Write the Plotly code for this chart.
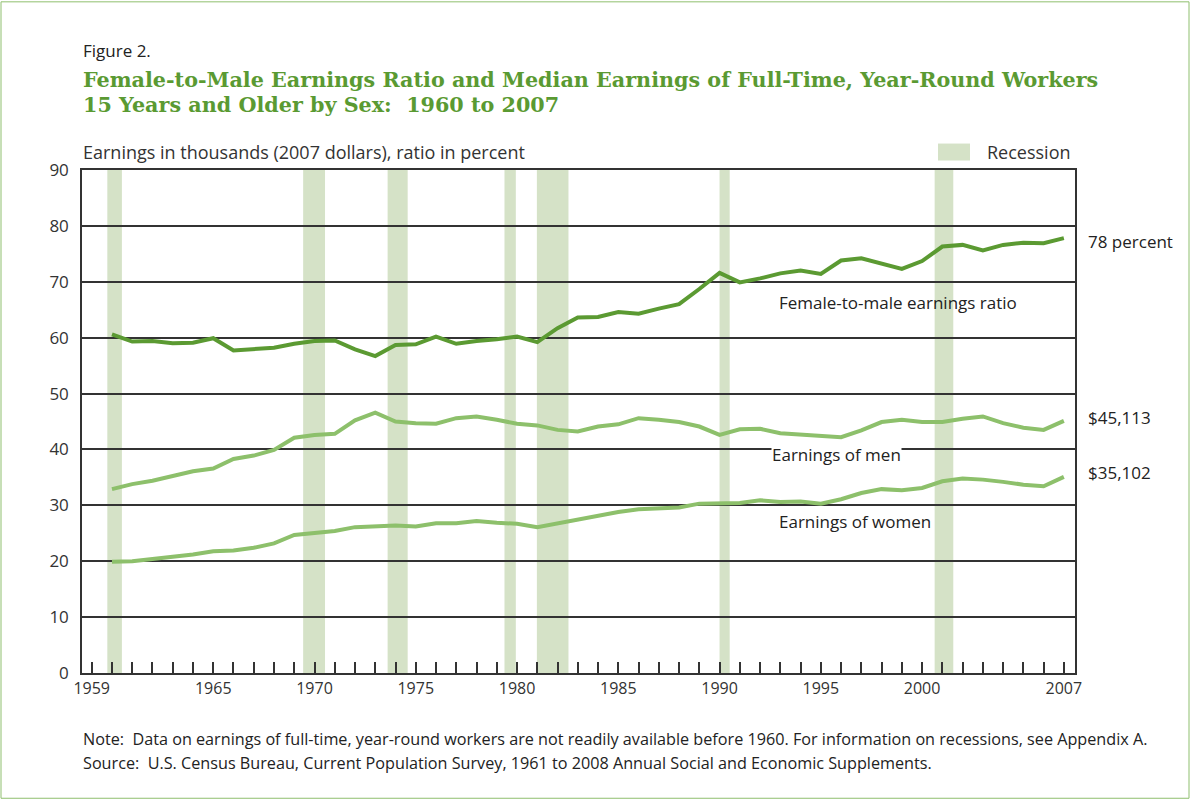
import plotly.graph_objects as go

years = list(range(1960, 2008))

ratio = [60.6, 59.3, 59.4, 59.0, 59.1, 59.9, 57.7, 57.9, 58.2, 58.9,
         59.4, 59.5, 57.9, 56.7, 58.7, 58.8, 60.2, 58.9, 59.4, 59.7,
         60.2, 59.2, 61.7, 63.6, 63.7, 64.6, 64.3, 65.2, 66.0, 68.7,
         71.6, 69.9, 70.6, 71.5, 72.0, 71.4, 73.8, 74.2, 73.2, 72.3,
         73.7, 76.3, 76.6, 75.6, 76.6, 77.0, 76.9, 77.8]

men = [32.9, 33.8, 34.4, 35.3, 36.1, 36.6, 38.3, 38.9, 39.9, 42.1,
       42.6, 42.8, 45.2, 46.6, 45.0, 44.7, 44.6, 45.6, 45.9, 45.3,
       44.6, 44.3, 43.5, 43.2, 44.1, 44.5, 45.6, 45.3, 44.9, 44.1,
       42.6, 43.6, 43.7, 42.9, 42.7, 42.5, 42.2, 43.4, 44.9, 45.3,
       44.9, 44.9, 45.5, 45.9, 44.7, 43.9, 43.5, 45.1]

women = [19.9, 20.0, 20.4, 20.8, 21.2, 21.8, 21.9, 22.4, 23.2, 24.7,
         25.1, 25.4, 26.1, 26.3, 26.4, 26.2, 26.8, 26.8, 27.2, 26.9,
         26.7, 26.1, 26.8, 27.5, 28.1, 28.8, 29.3, 29.5, 29.6, 30.3,
         30.4, 30.4, 30.9, 30.6, 30.7, 30.3, 31.1, 32.2, 32.9, 32.7,
         33.1, 34.3, 34.8, 34.6, 34.2, 33.7, 33.4, 35.1]

recession_start = [1959.77, 1969.44, 1973.61, 1979.38, 1980.98, 1990.0, 2000.62]
recession_end = [1960.49, 1970.52, 1974.60, 1979.94, 1982.54, 1990.5, 2001.54]

tick_years = list(range(1959, 2008))
labeled_years = [1959, 1965, 1970, 1975, 1980, 1985, 1990, 1995, 2000, 2007]
tick_text = [str(y) if y in labeled_years else "" for y in tick_years]

end_labels = ["78 percent", "$45,113", "$35,102"]

DARK = "#5b9a32"
LIGHT = "#8dc06b"
BAR = "#d5e2c7"
AX = "#333333"
FONT = "Open Sans"

W, H = 1190, 800
L, R, T, B = 82, 1075, 169.5, 673.5


def px(x):
    return (x - L) / (R - L)


def py(y):
    return (B - y) / (B - T)


fig = go.Figure()

fig.add_trace(go.Scatter(x=years, y=men, mode="lines",
                         line=dict(color=LIGHT, width=4), hoverinfo="skip"))
fig.add_trace(go.Scatter(x=years, y=women, mode="lines",
                         line=dict(color=LIGHT, width=4), hoverinfo="skip"))
fig.add_trace(go.Scatter(x=years, y=ratio, mode="lines",
                         line=dict(color=DARK, width=4), hoverinfo="skip"))

shapes = []
for s, e in zip(recession_start, recession_end):
    shapes.append(dict(type="rect", xref="x", yref="paper", x0=s, x1=e, y0=0, y1=1,
                       fillcolor=BAR, line=dict(width=0), layer="below"))
# legend swatch
shapes.append(dict(type="rect", xref="paper", yref="paper",
                   x0=px(938), x1=px(970), y0=py(160), y1=py(143),
                   fillcolor=BAR, line=dict(width=0)))
# outer frame
shapes.append(dict(type="rect", xref="paper", yref="paper",
                   x0=px(1), x1=px(W - 1), y0=py(H - 1), y1=py(1),
                   line=dict(color="#8fbf6e", width=1), fillcolor="rgba(0,0,0,0)"))

annotations = [
    dict(text="Figure 2.", x=px(81), y=py(50), xanchor="left", yanchor="middle",
         font=dict(family=FONT, size=17, color="#222222")),
    dict(text="<b>Female-to-Male Earnings Ratio and Median Earnings of Full-Time, Year-Round Workers</b>",
         x=px(81), y=py(79), xanchor="left", yanchor="middle",
         font=dict(family="DejaVu Serif", size=20.7, color="#5a9a32")),
    dict(text="<b>15 Years and Older by Sex:  1960 to 2007</b>",
         x=px(81), y=py(104), xanchor="left", yanchor="middle",
         font=dict(family="DejaVu Serif", size=20.7, color="#5a9a32")),
    dict(text="Earnings in thousands (2007 dollars), ratio in percent",
         x=px(81), y=py(151), xanchor="left", yanchor="middle",
         font=dict(family=FONT, size=18, color="#333333")),
    dict(text="Recession", x=px(985), y=py(151), xanchor="left", yanchor="middle",
         font=dict(family=FONT, size=18, color="#333333")),
    dict(text=end_labels[0], x=px(1086), y=py(241), xanchor="left", yanchor="middle",
         font=dict(family=FONT, size=17, color="#222222")),
    dict(text=end_labels[1], x=px(1086), y=py(417), xanchor="left", yanchor="middle",
         font=dict(family=FONT, size=17, color="#222222")),
    dict(text=end_labels[2], x=px(1086), y=py(473), xanchor="left", yanchor="middle",
         font=dict(family=FONT, size=17, color="#222222")),
    dict(text="Female-to-male earnings ratio", x=px(777), y=py(302), xanchor="left", yanchor="middle",
         font=dict(family=FONT, size=17, color="#222222")),
    dict(text="Earnings of men", x=px(771), y=py(455), xanchor="left", yanchor="middle",
         bgcolor="white", borderpad=0,
         font=dict(family=FONT, size=17, color="#222222")),
    dict(text="Earnings of women", x=px(777), y=py(522), xanchor="left", yanchor="middle",
         font=dict(family=FONT, size=17, color="#222222")),
    dict(text="Note:  Data on earnings of full-time, year-round workers are not readily available before 1960. For information on recessions, see Appendix A.",
         x=px(81), y=py(740), xanchor="left", yanchor="middle",
         font=dict(family=FONT, size=16.2, color="#222222")),
    dict(text="Source:  U.S. Census Bureau, Current Population Survey, 1961 to 2008 Annual Social and Economic Supplements.",
         x=px(81), y=py(764), xanchor="left", yanchor="middle",
         font=dict(family=FONT, size=16.2, color="#222222")),
]
for a in annotations:
    a.setdefault("xref", "paper")
    a.setdefault("yref", "paper")
    a.setdefault("showarrow", False)

fig.update_layout(
    width=W, height=H,
    margin=dict(l=L, r=W - R, t=T, b=H - B, pad=0),
    paper_bgcolor="white", plot_bgcolor="white",
    showlegend=False,
    shapes=shapes,
    annotations=annotations,
    font=dict(family=FONT, color="#333333"),
    xaxis=dict(range=[1958.52, 2007.55], tickmode="array", tickvals=tick_years,
               ticktext=tick_text, ticks="inside", ticklen=11, tickwidth=1.5,
               tickcolor=AX, showgrid=False, zeroline=False,
               showline=True, linecolor=AX, linewidth=1.5, mirror=True,
               tickfont=dict(family=FONT, size=16, color="#333333")),
    yaxis=dict(range=[0, 90], tickmode="array", tickvals=list(range(0, 91, 10)),
               ticks="", showgrid=True, gridcolor=AX, gridwidth=1.5, zeroline=False,
               showline=True, linecolor=AX, linewidth=1.5, mirror=True,
               ticklabelstandoff=8,
               tickfont=dict(family=FONT, size=17, color="#333333")),
)

fig.write_html("out.html", config={"displayModeBar": False},
               post_script="document.body.style.margin='0';document.body.style.overflow='hidden';")
